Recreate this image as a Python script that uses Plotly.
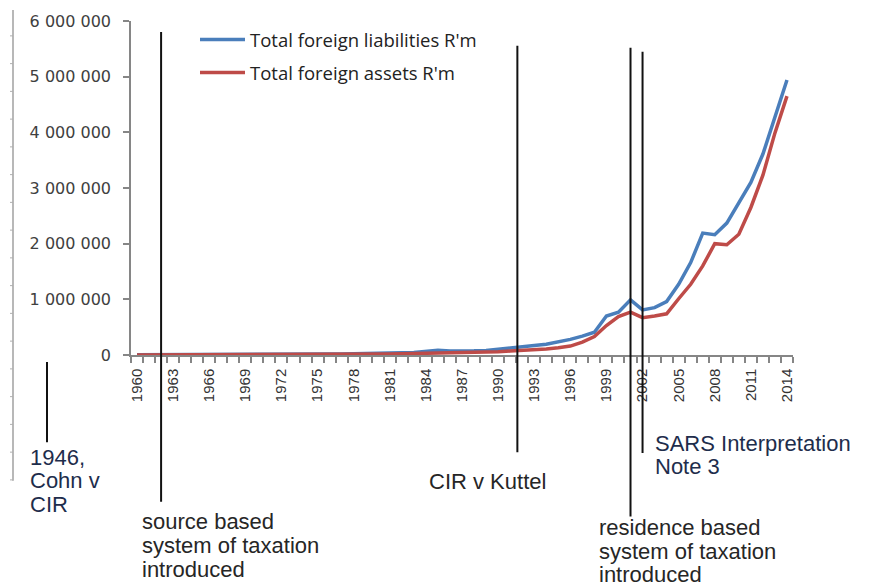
import plotly.graph_objects as go

years = list(range(1960, 2015))
liabilities = [3000, 3100, 3200, 3300, 3500, 3900, 4300, 4700, 5300, 5800,
               6300, 7200, 8200, 9300, 11500, 15000, 18000, 19500, 21000, 22500,
               25000, 31000, 40000, 46000, 65000, 85000, 72000, 68000, 75000, 82000,
               100000, 120000, 150000, 170000, 195000, 235000, 280000, 340000, 410000, 700000,
               770000, 990000, 810000, 850000, 960000, 1270000, 1660000, 2190000, 2160000, 2370000,
               2750000, 3100000, 3610000, 4260000, 4940000]
assets = [1500, 1500, 1600, 1800, 1900, 2000, 2100, 2300, 2700, 2900,
          3000, 3300, 3800, 4500, 5300, 6500, 7500, 8500, 10500, 13000,
          15000, 17000, 21000, 24000, 33000, 45000, 44000, 46000, 50000, 56000,
          60000, 70000, 80000, 95000, 110000, 130000, 160000, 230000, 330000, 530000,
          690000, 770000, 670000, 700000, 740000, 1010000, 1270000, 1600000, 2000000, 1980000,
          2170000, 2650000, 3230000, 3990000, 4650000]
series_names = ["Total foreign liabilities R'm", "Total foreign assets R'm"]
x_tick_years = list(range(1960, 2015, 3))
y_ticks = [0, 1000000, 2000000, 3000000, 4000000, 5000000, 6000000]

# event markers (year position on the category axis)
event_years = [1962, 1991.6, 2001, 2002]

W, H = 880, 586
L, R, T, B = 131, 87, 18, 231
PW, PH = W - L - R, H - T - B


def px(x):
    return (x - L) / PW


def py(y):
    return (H - B - y) / PH


fig = go.Figure()
fig.add_trace(go.Scatter(x=years, y=liabilities, mode="lines", name=series_names[0],
                         line=dict(color="#4A7EBB", width=3.5), legendgroup="a"))
fig.add_trace(go.Scatter(x=years, y=assets, mode="lines", name=series_names[1],
                         line=dict(color="#BE4B48", width=3.5), legendgroup="b"))

shapes = []
# event lines: (top px, bottom px)
ev_spans = [(29, 503), (43, 453), (45, 518), (49, 454)]
for yr, (t, b) in zip(event_years, ev_spans):
    shapes.append(dict(type="line", xref="x", yref="paper", x0=yr, x1=yr,
                       y0=py(t), y1=py(b), line=dict(color="#111111", width=2)))
# 1946 marker line (off-axis)
shapes.append(dict(type="line", xref="paper", yref="paper", x0=px(47), x1=px(47),
                   y0=py(362), y1=py(443), line=dict(color="#111111", width=2)))
# faint left decorative scale
shapes.append(dict(type="line", xref="paper", yref="paper", x0=px(13), x1=px(13),
                   y0=py(7), y1=py(482), line=dict(color="#A0A0A0", width=1.5)))
for yy in range(33, 482, 28):
    shapes.append(dict(type="line", xref="paper", yref="paper", x0=px(10), x1=px(13),
                       y0=py(yy), y1=py(yy), line=dict(color="#B0B0B0", width=1)))

dark = "#262626"
navy = "#1E2D4C"
ann = []


def add_lines(lines, x, ys, color, size=22):
    for t, yy in zip(lines, ys):
        ann.append(dict(text=t, xref="paper", yref="paper", x=px(x), y=py(yy),
                        xanchor="left", yanchor="middle", showarrow=False,
                        font=dict(family="Liberation Sans", size=size, color=color)))


add_lines(["1946,", "Cohn v", "CIR"], 28, [458, 482, 506], navy)
add_lines(["source based", "system of taxation", "introduced"], 140, [523, 547, 571], dark)
add_lines(["CIR v Kuttel"], 427, [483], dark)
add_lines(["SARS Interpretation", "Note 3"], 653, [444, 468], navy)
add_lines(["residence based", "system of taxation", "introduced"], 597, [529, 553, 576], dark)

fig.update_layout(
    width=W, height=H, autosize=False,
    margin=dict(l=L, r=R, t=T, b=B, pad=0),
    plot_bgcolor="white", paper_bgcolor="white",
    separators=". ",
    shapes=shapes, annotations=ann,
    showlegend=True,
    legend=dict(x=px(195), y=py(18), xanchor="left", yanchor="top",
                bgcolor="rgba(0,0,0,0)", itemwidth=45, tracegroupgap=6,
                font=dict(family="Open Sans", size=18.5, color="#222222")),
    xaxis=dict(range=[1959.5, 2014.5], tickmode="array", tickvals=x_tick_years,
               ticktext=[str(v) for v in x_tick_years], tickangle=-90,
               ticks="", showgrid=False, zeroline=False,
               showline=True, linecolor="#868686", linewidth=1.5,
               tickfont=dict(family="Liberation Sans", size=15, color="#333333"),
               ticklabelstandoff=6,
               minor=dict(tick0=1959.5, dtick=1, ticks="outside", ticklen=6,
                          tickcolor="#868686", tickwidth=1.5, showgrid=False)),
    yaxis=dict(range=[0, 6000000], tickmode="array", tickvals=y_ticks,
               tickformat=",d", ticks="outside", ticklen=6, tickcolor="#868686",
               tickwidth=1.5, showgrid=False, zeroline=False,
               showline=True, linecolor="#868686", linewidth=1.5,
               tickfont=dict(family="DejaVu Sans", size=16, color="#404040"),
               ticklabelstandoff=9),
)

fig.write_html("out.html", config={"displayModeBar": False},
               post_script="document.body.style.margin='0';document.body.style.overflow='hidden';")
